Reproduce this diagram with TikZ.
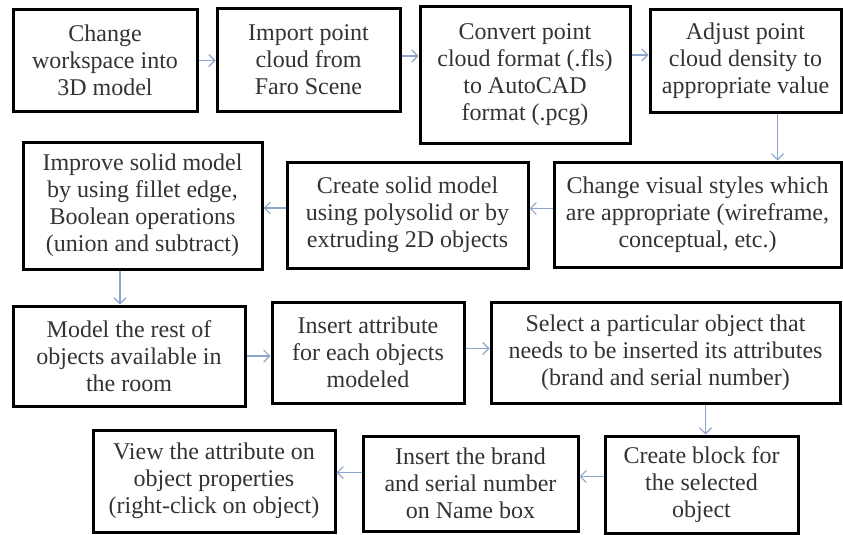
\documentclass[tikz,border=0pt]{standalone}
\usepackage{fontspec}
\setmainfont{Liberation Serif}
\usetikzlibrary{arrows.meta}
\definecolor{arrowblue}{RGB}{140,165,205}

\begin{document}
\begin{tikzpicture}[x=1pt,y=-1pt,
  box/.style={draw=black,line width=3pt,align=center,inner sep=0pt,
    font=\fontsize{24}{27}\selectfont,text=black!80},
  flow/.style={draw=arrowblue,line width=1.1pt,
    -{Straight Barb[length=6pt,width=12pt]}}]
  \useasboundingbox (0,0) rectangle (843,535);
  % first row
  \node[box,minimum width=184pt,minimum height=101pt] (workspace) at (105,60.5)
    {Change\\workspace into\\3D model};
  \node[box,minimum width=183pt,minimum height=102pt] (import) at (308.5,60)
    {Import point\\cloud from\\Faro Scene};
  \node[box,minimum width=210pt,minimum height=136pt] (convert) at (525,75)
    {Convert point\\cloud format (.fls)\\to AutoCAD\\format (.pcg)};
  \node[box,minimum width=191pt,minimum height=102pt] (density) at (745.5,61)
    {Adjust point\\cloud density to\\appropriate value};
  % second row
  \node[box,minimum width=287pt,minimum height=105pt] (visual) at (697.5,214.5)
    {Change visual styles which\\are appropriate (wireframe,\\conceptual, etc.)};
  \node[box,minimum width=241pt,minimum height=106pt] (solid) at (407.5,215)
    {Create solid model\\using polysolid or by\\extruding 2D objects};
  \node[box,minimum width=239pt,minimum height=127pt] (improve) at (142.5,205.5)
    {Improve solid model\\by using fillet edge,\\Boolean operations\\(union and subtract)};
  % third row
  \node[box,minimum width=232pt,minimum height=100pt] (rest) at (129,356)
    {Model the rest of\\objects available in\\the room};
  \node[box,minimum width=192pt,minimum height=101pt] (attribute) at (368,352.5)
    {Insert attribute\\for each objects\\modeled};
  \node[box,minimum width=349pt,minimum height=101pt] (select) at (665.5,352.5)
    {Select a particular object that\\needs to be inserted its attributes\\(brand and serial number)};
  % last row
  \node[box,minimum width=193pt,minimum height=97pt] (block) at (701.5,484.5)
    {Create block for\\the selected\\object};
  \node[box,minimum width=215pt,minimum height=95pt] (brand) at (470.5,483.5)
    {Insert the brand\\and serial number\\on Name box};
  \node[box,minimum width=242pt,minimum height=102pt] (view) at (214,481)
    {View the attribute on\\object properties\\(right-click on object)};
  % arrows
  \draw[flow] (workspace.east) -- (workspace.east -| import.west);
  \draw[flow] ([yshift=4pt]import.east) -- ([yshift=4pt]import.east -| convert.west);
  \draw[flow] ([yshift=6pt]density.west -| convert.east) -- ([yshift=6pt]density.west);
  \draw[flow] ([xshift=32pt]density.south) -- ([xshift=32pt]density.south |- visual.north);
  \draw[flow] ([yshift=6pt]visual.west) -- ([yshift=6pt]visual.west -| solid.east);
  \draw[flow] ([yshift=7pt]solid.west) -- ([yshift=7pt]solid.west -| improve.east);
  \draw[flow] ([xshift=-9pt]rest.north |- improve.south) -- ([xshift=-9pt]rest.north);
  \draw[flow] (rest.east) -- (rest.east -| attribute.west);
  \draw[flow] ([yshift=4pt]attribute.east) -- ([yshift=4pt]attribute.east -| select.west);
  \draw[flow] ([xshift=4pt]block.north |- select.south) -- ([xshift=4pt]block.north);
  \draw[flow] ([yshift=8pt]block.west) -- ([yshift=8pt]block.west -| brand.east);
  \draw[flow] ([yshift=11pt]brand.west) -- ([yshift=11pt]brand.west -| view.east);
\end{tikzpicture}
\end{document}
